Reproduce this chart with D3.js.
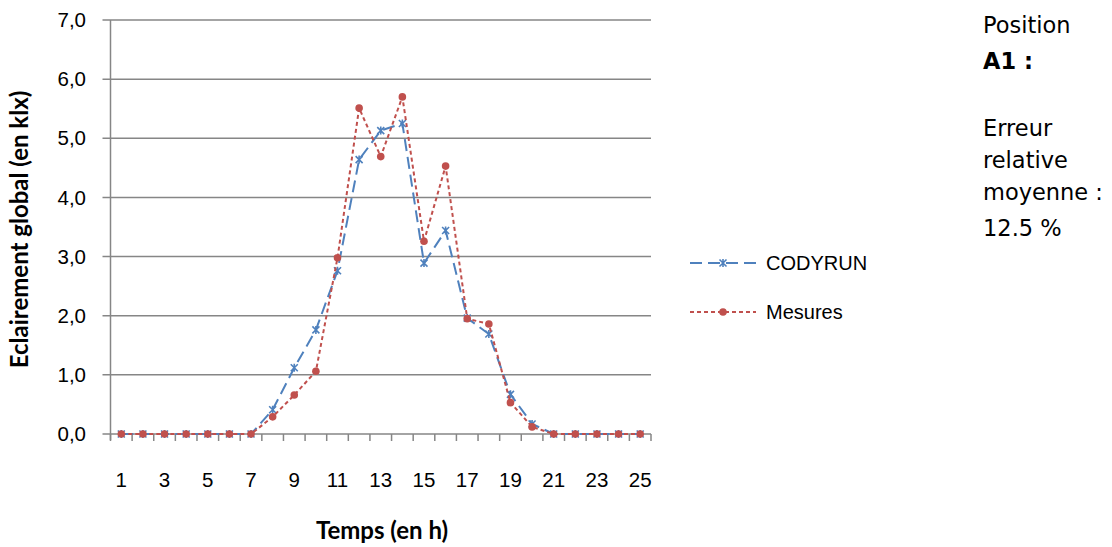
<!DOCTYPE html>
<html><head><meta charset="utf-8">
<script src="https://cdn.jsdelivr.net/npm/d3@7"></script>
<style>body{margin:0;background:#fff}svg{display:block}</style>
</head><body>
<svg id="c" width="1112" height="547"></svg>
<script>
const hours = d3.range(1, 26);
const codyrun = [0,0,0,0,0,0,0,0.41,1.12,1.76,2.76,4.64,5.13,5.25,2.89,3.44,1.96,1.69,0.67,0.17,0,0,0,0,0];
const mesures = [0,0,0,0,0,0,0,0.29,0.66,1.06,2.98,5.51,4.69,5.70,3.26,4.53,1.95,1.86,0.53,0.12,0,0,0,0,0];
const yTicks = [0,1,2,3,4,5,6,7];
const xTickLabels = [1,3,5,7,9,11,13,15,17,19,21,23,25];
const seriesNames = ["CODYRUN", "Mesures"];
const sideText = ["Position", "A1 :", "Erreur", "relative", "moyenne :", "12.5 %"];

const svg = d3.select("#c");
const L = 110.5, R = 651, T = 20, B = 434;
const x = d3.scaleBand().domain(hours).range([L, R]);
const y = d3.scaleLinear().domain([0, 7]).range([B, T]);
const grid = "#868686";
const fmt = v => v.toFixed(1).replace(".", ",");
const sans = "Liberation Sans, Arial, sans-serif";

// gridlines
svg.append("g").selectAll("line").data(yTicks).join("line")
  .attr("x1", L - 8).attr("x2", R).attr("y1", d => y(d)).attr("y2", d => y(d))
  .attr("stroke", grid).attr("stroke-width", 1.5);
// y axis line
svg.append("line").attr("x1", L).attr("x2", L).attr("y1", T).attr("y2", B + 6)
  .attr("stroke", grid).attr("stroke-width", 1.5);
// x ticks at band boundaries
const bounds = hours.map(h => x(h)).concat([R]);
svg.append("g").selectAll("line").data(bounds).join("line")
  .attr("x1", d => d).attr("x2", d => d).attr("y1", B).attr("y2", B + 7)
  .attr("stroke", grid).attr("stroke-width", 1.5);

// y tick labels
svg.append("g").selectAll("text").data(yTicks).join("text")
  .attr("x", 86).attr("y", d => y(d)).attr("dy", "0.35em").attr("text-anchor", "end")
  .attr("font-family", sans).attr("font-size", 20.5).attr("fill", "#000")
  .text(fmt);
// x tick labels
svg.append("g").selectAll("text").data(xTickLabels).join("text")
  .attr("x", d => x(d) + x.bandwidth() / 2).attr("y", 480).attr("dy", "0.35em").attr("text-anchor", "middle")
  .attr("font-family", sans).attr("font-size", 20.5).attr("fill", "#000")
  .text(d => d);

// axis titles
svg.append("text").attr("transform", "translate(20,229.5) rotate(-90)").attr("text-anchor", "middle")
  .attr("dy", "0.35em").attr("font-family", "Lato, Liberation Sans, sans-serif").attr("font-weight", "bold")
  .attr("font-size", 24).text("Eclairement global (en klx)");
svg.append("text").attr("x", 382).attr("y", 531).attr("text-anchor", "middle")
  .attr("dy", "0.35em").attr("font-family", "Lato, Liberation Sans, sans-serif").attr("font-weight", "bold")
  .attr("font-size", 24).text("Temps (en h)");

const cx = h => x(h) + x.bandwidth() / 2;
const line = d3.line().x((d, i) => cx(hours[i])).y(d => y(d));
const blue = "#4F81BD", red = "#C0504D";

function star(g, px, py, s) {
  g.append("path").attr("d", `M${px-s},${py-s}L${px+s},${py+s}M${px-s},${py+s}L${px+s},${py-s}M${px},${py-s-0.5}L${px},${py+s+0.5}`)
    .attr("stroke", blue).attr("stroke-width", 1.6).attr("fill", "none");
}

// CODYRUN
svg.append("path").datum(codyrun).attr("d", line).attr("fill", "none")
  .attr("stroke", blue).attr("stroke-width", 2).attr("stroke-dasharray", "12,6");
const gm = svg.append("g");
codyrun.forEach((v, i) => star(gm, cx(hours[i]), y(v), 3.5));

// Mesures
svg.append("path").datum(mesures).attr("d", line).attr("fill", "none")
  .attr("stroke", red).attr("stroke-width", 2).attr("stroke-dasharray", "4,3");
svg.append("g").selectAll("circle").data(mesures).join("circle")
  .attr("cx", (d, i) => cx(hours[i])).attr("cy", d => y(d)).attr("r", 3.8).attr("fill", red);

// legend
const leg = [{n: seriesNames[0], c: blue, dash: "12,6", y: 263}, {n: seriesNames[1], c: red, dash: "4,3", y: 312}];
leg.forEach((d, i) => {
  svg.append("line").attr("x1", 690).attr("x2", 756).attr("y1", d.y).attr("y2", d.y)
    .attr("stroke", d.c).attr("stroke-width", 2).attr("stroke-dasharray", d.dash);
  if (i === 0) star(svg, 723, d.y, 3.5);
  else svg.append("circle").attr("cx", 723).attr("cy", d.y).attr("r", 3.8).attr("fill", red);
  svg.append("text").attr("x", 766).attr("y", d.y).attr("dy", "0.35em")
    .attr("font-family", sans).attr("font-size", 20).text(d.n);
});

// side text
const sideY = [25, 61, 128, 160, 192, 228];
svg.append("g").selectAll("text").data(sideText).join("text")
  .attr("x", 983).attr("y", (d, i) => sideY[i]).attr("dy", "0.35em")
  .attr("font-family", "DejaVu Sans, sans-serif").attr("font-size", 22.5)
  .attr("font-weight", (d, i) => i === 1 ? "bold" : "normal")
  .text(d => d);
</script>
</body></html>
